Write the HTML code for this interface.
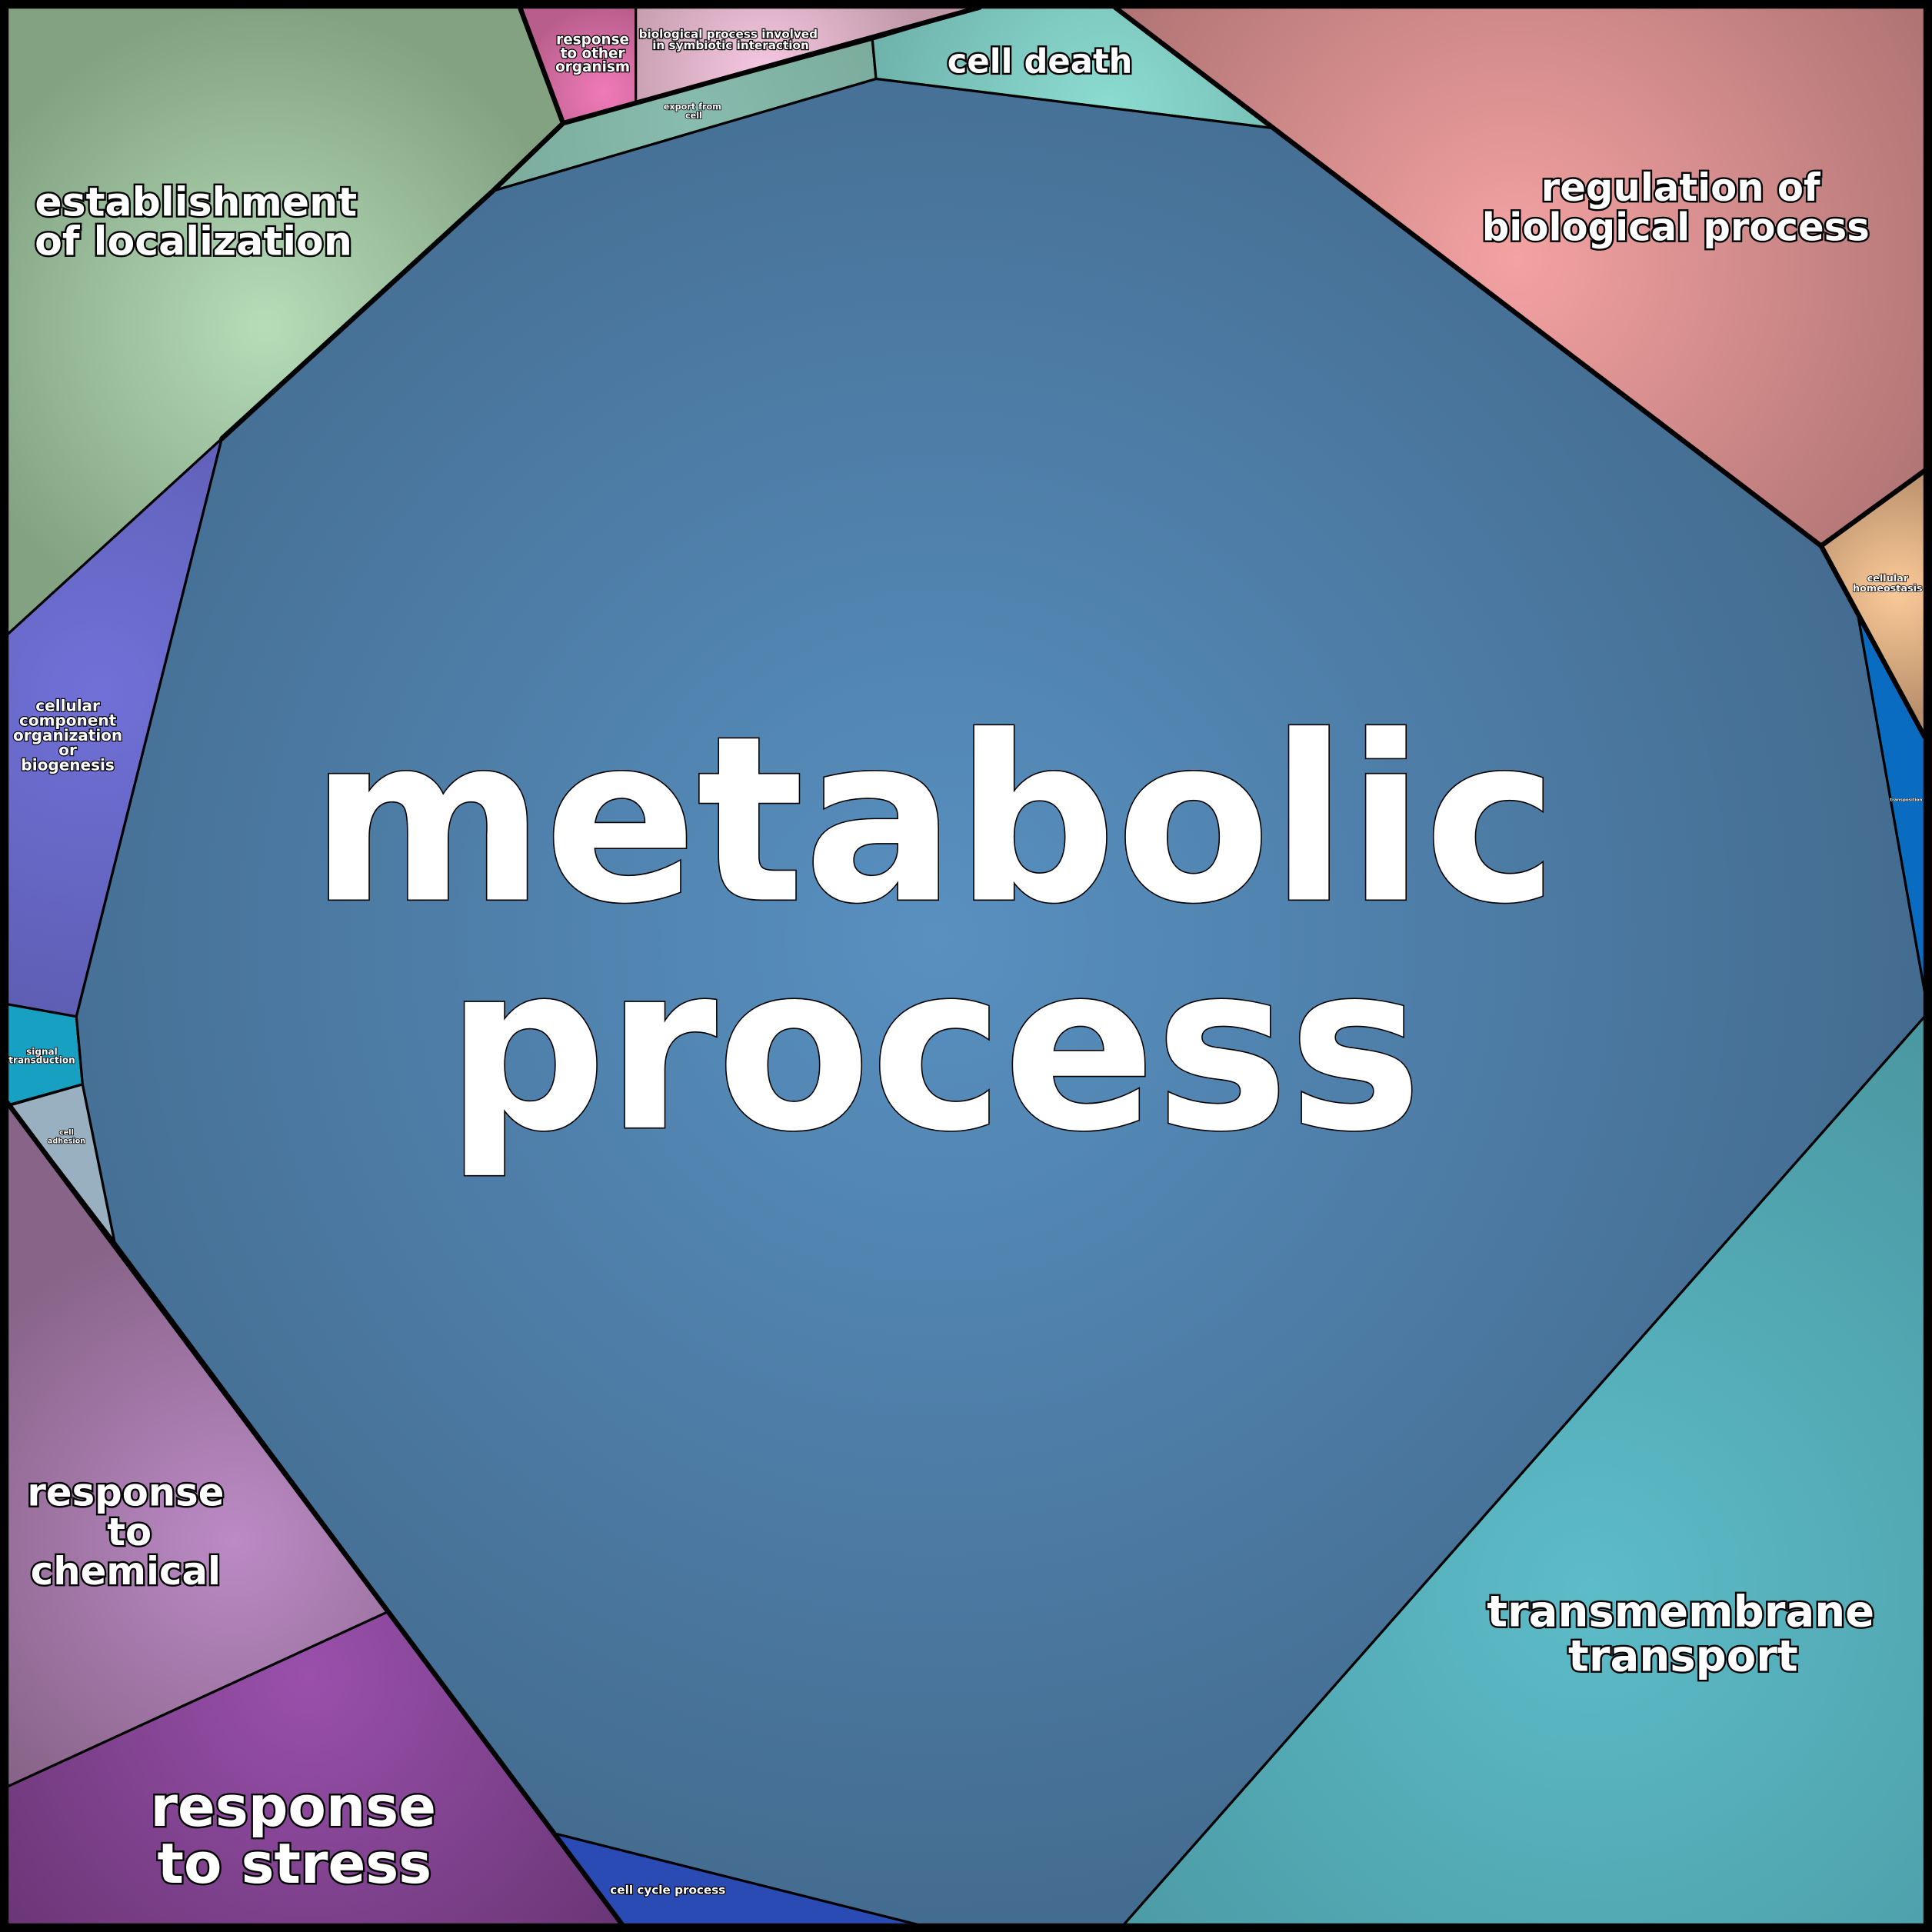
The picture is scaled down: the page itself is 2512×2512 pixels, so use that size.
<!DOCTYPE html>
<html><head><meta charset="utf-8"><style>
html,body{margin:0;padding:0;background:#000}
svg{display:block}
text{font-family:"DejaVu Sans","Liberation Sans",sans-serif;font-weight:bold;fill:#fff;stroke:#000;text-anchor:middle;paint-order:stroke}
</style></head><body>
<svg width="2512" height="2512" viewBox="0 0 1568 1568" xmlns="http://www.w3.org/2000/svg">
<defs>
<radialGradient id="gm" cx="760" cy="760" r="800" gradientUnits="userSpaceOnUse"><stop offset="0" stop-color="#5890c0"/><stop offset="1" stop-color="#446c90"/></radialGradient>
<radialGradient id="ge" cx="215" cy="265" r="260" gradientUnits="userSpaceOnUse"><stop offset="0" stop-color="#b6dcb8"/><stop offset="1" stop-color="#82a282"/></radialGradient>
<radialGradient id="go" cx="490" cy="75" r="70" gradientUnits="userSpaceOnUse"><stop offset="0" stop-color="#f07ab8"/><stop offset="1" stop-color="#b85e8c"/></radialGradient>
<radialGradient id="gs" cx="620" cy="60" r="130" gradientUnits="userSpaceOnUse"><stop offset="0" stop-color="#f6c8e2"/><stop offset="1" stop-color="#c098a8"/></radialGradient>
<radialGradient id="gx" cx="560" cy="100" r="200" gradientUnits="userSpaceOnUse"><stop offset="0" stop-color="#88bcae"/><stop offset="1" stop-color="#78a898"/></radialGradient>
<radialGradient id="gd" cx="900" cy="90" r="200" gradientUnits="userSpaceOnUse"><stop offset="0" stop-color="#8cdcd2"/><stop offset="1" stop-color="#6eb2aa"/></radialGradient>
<radialGradient id="gr" cx="1230" cy="210" r="380" gradientUnits="userSpaceOnUse"><stop offset="0" stop-color="#f4a2a2"/><stop offset="1" stop-color="#b07474"/></radialGradient>
<radialGradient id="gh" cx="1540" cy="480" r="100" gradientUnits="userSpaceOnUse"><stop offset="0" stop-color="#fcca98"/><stop offset="1" stop-color="#b8906c"/></radialGradient>
<radialGradient id="gt" cx="1290" cy="1290" r="520" gradientUnits="userSpaceOnUse"><stop offset="0" stop-color="#5cbcc8"/><stop offset="1" stop-color="#4a98a2"/></radialGradient>
<radialGradient id="gst" cx="250" cy="1360" r="320" gradientUnits="userSpaceOnUse"><stop offset="0" stop-color="#9a50ac"/><stop offset="1" stop-color="#6a3676"/></radialGradient>
<radialGradient id="gc" cx="190" cy="1250" r="260" gradientUnits="userSpaceOnUse"><stop offset="0" stop-color="#bc8ac6"/><stop offset="1" stop-color="#886488"/></radialGradient>
<radialGradient id="gco" cx="80" cy="560" r="300" gradientUnits="userSpaceOnUse"><stop offset="0" stop-color="#7070d8"/><stop offset="1" stop-color="#5c5cb0"/></radialGradient>
</defs>
<rect x="0" y="0" width="1568" height="1568" fill="#000"/>
<g stroke="#000" stroke-width="2" stroke-linejoin="round">
<polygon fill="url(#ge)" points="6,6 422,6 457,100 400,155 180,356 6,515"/>
<polygon fill="url(#go)" points="422,6 516,6 516,83 457,100"/>
<polygon fill="url(#gs)" points="516,6 795,6 708,32 516,83"/>
<polygon fill="url(#gx)" points="457,100 708,32 711,64 400,155"/>
<polygon fill="url(#gd)" points="795,6 905,6 1033,104 711,64 708,32"/>
<polygon fill="url(#gr)" points="905,6 1562,6 1562,382 1478,443 1033,104"/>
<polygon fill="url(#gh)" points="1478,443 1562,382 1562,598 1508,500"/>
<polygon fill="#0a6cc0" points="1508,500 1562,598 1562,805"/>
<polygon fill="url(#gt)" points="1562,825 1562,1562 912,1562"/>
<polygon fill="#2a4ab4" points="450,1488 745,1562 505,1562"/>
<polygon fill="url(#gst)" points="6,1450 315,1308 505,1562 6,1562"/>
<polygon fill="url(#gc)" points="6,895 93,1008 315,1308 6,1450"/>
<polygon fill="#98b0c0" points="67,880 93,1008 8,897"/>
<polygon fill="#18a0c2" points="6,815 62,825 67,880 6,897"/>
<polygon fill="url(#gco)" points="6,515 180,356 62,825 6,815"/>
<polygon fill="url(#gm)" points="711,64 1033,104 1478,443 1508,500 1562,805 1562,825 912,1562 745,1562 450,1488 93,1008 67,880 62,825 180,356 400,155"/>
</g>
<g stroke="#000" stroke-width="4" fill="none" stroke-linecap="round">
<polyline points="180,356 400,155 457,100 795,6"/>
<polyline points="422,6 457,100"/>
<polyline points="905,6 1478,443 1562,598"/>
<polyline points="6,895 505,1562"/>
<polyline points="1478,443 1562,382"/>
</g>
<rect x="3" y="3" width="1562" height="1562" fill="none" stroke="#000" stroke-width="6"/>
<text x="758" y="730" font-size="186" stroke-width="2" textLength="1012" lengthAdjust="spacingAndGlyphs">metabolic</text>
<text x="758" y="915" font-size="186" stroke-width="2" textLength="792" lengthAdjust="spacingAndGlyphs">process</text>
<g stroke-width="3">
<text x="159" y="175" font-size="32.5">establishment</text>
<text x="157" y="207" font-size="32.5">of localization</text>
<text x="1364" y="163" font-size="31">regulation of</text>
<text x="1360" y="195" font-size="31">biological process</text>
<text x="844" y="59" font-size="27">cell death</text>
<text x="1364" y="1320" font-size="35">transmembrane</text>
<text x="1366" y="1356" font-size="35">transport</text>
<text x="102" y="1222" font-size="31">response</text>
<text x="105" y="1254" font-size="31">to</text>
<text x="102" y="1286" font-size="31">chemical</text>
<text x="238" y="1482" font-size="45">response</text>
<text x="239" y="1528" font-size="45">to stress</text>
</g>
<g stroke-width="1.5">
<text x="55" y="577" font-size="12.5">cellular</text>
<text x="55" y="589" font-size="12.5">component</text>
<text x="55" y="601" font-size="12.5">organization</text>
<text x="55" y="613" font-size="12.5">or</text>
<text x="55" y="625" font-size="12.5">biogenesis</text>
<text x="481" y="36" font-size="11.5">response</text>
<text x="481" y="47" font-size="11.5">to other</text>
<text x="481" y="58" font-size="11.5">organism</text>
<text x="591" y="31" font-size="9.5">biological process involved</text>
<text x="593" y="40" font-size="9.5">in symbiotic interaction</text>
<text x="542" y="1537" font-size="9.5">cell cycle process</text>
</g>
<g stroke-width="1">
<text x="34" y="856" font-size="7.5">signal</text>
<text x="34" y="863" font-size="7.5">transduction</text>
<text x="562" y="89" font-size="7">export from</text>
<text x="563" y="96" font-size="7">cell</text>
<text x="1532" y="472" font-size="8">cellular</text>
<text x="1532" y="480" font-size="8">homeostasis</text>
<text x="54" y="921" font-size="6">cell</text>
<text x="54" y="928" font-size="6">adhesion</text>
</g>
<text x="1547" y="650" font-size="3.5" stroke-width="0.5">transposition</text>
</svg>
</body></html>
